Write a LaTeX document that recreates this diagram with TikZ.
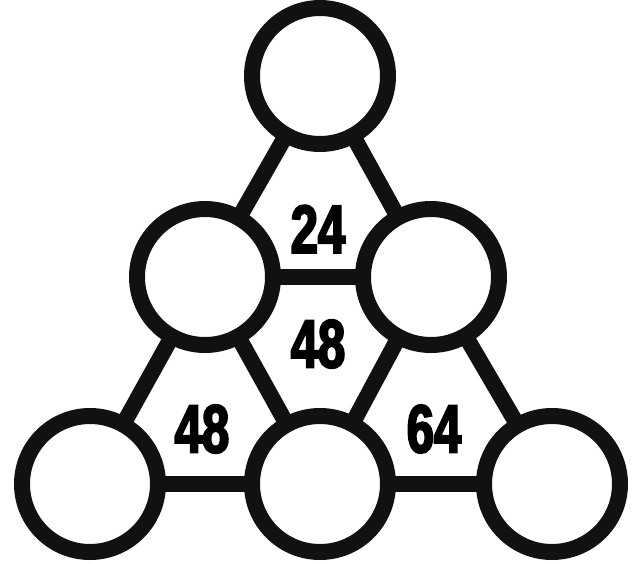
\documentclass[tikz,border=0pt]{standalone}
\usepackage{fontspec}
\newfontfamily\digitfont{Liberation Sans}[FakeStretch=0.72, BoldFeatures={FakeBold=3}]
\definecolor{ink}{HTML}{111111}
\begin{document}
\begin{tikzpicture}[x=1pt,y=-1pt,
  ring/.style={draw=ink, line width=16pt, fill=white, circle, minimum size=136pt, inner sep=0pt},
  link/.style={draw=ink, line width=16pt},
  num/.style={font=\digitfont\bfseries\fontsize{68}{68}\selectfont, text=black, inner sep=0pt}]
\useasboundingbox (0,0) rectangle (637,563);
\coordinate (pT) at (320,76);
\coordinate (pML) at (205,277);
\coordinate (pMR) at (431,277);
\coordinate (pBL) at (90,484);
\coordinate (pBM) at (320,484);
\coordinate (pBR) at (552,484);
\draw[link] (pT) -- (pML);
\draw[link] (pT) -- (pMR);
\draw[link] (pML) -- (pMR);
\draw[link] (pML) -- (pBL);
\draw[link] (pML) -- (pBM);
\draw[link] (pMR) -- (pBM);
\draw[link] (pMR) -- (pBR);
\draw[link] (pBL) -- (pBM);
\draw[link] (pBM) -- (pBR);
\node[ring] (T) at (pT) {};
\node[ring] (ML) at (pML) {};
\node[ring] (MR) at (pMR) {};
\node[ring] (BL) at (pBL) {};
\node[ring] (BM) at (pBM) {};
\node[ring] (BR) at (pBR) {};
\node[num] (n24) at (318,229) {24};
\node[num] (n48a) at (318,344) {48};
\node[num] (n48b) at (202,429) {48};
\node[num] (n64) at (434,429) {64};
\end{tikzpicture}
\end{document}
